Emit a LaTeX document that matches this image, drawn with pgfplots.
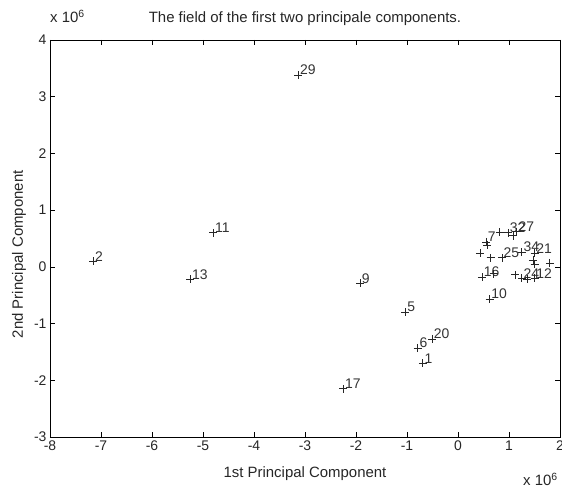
\documentclass[border=0pt]{standalone}
\usepackage{fontspec}
\setmainfont{Liberation Sans}
\usepackage{pgfplots}
\pgfplotsset{compat=1.18}
\begin{document}
\begin{tikzpicture}
\begin{axis}[
 width=510bp, height=397bp, scale only axis,
 xmin=-8, xmax=2, ymin=-3, ymax=4,
 xtick={-8,-7,...,2}, ytick={-3,-2,...,4},
 tick align=inside, major tick length=5bp,
 tick style={black, line width=0.6pt},
 axis line style={line width=0.8pt},
 /pgf/number format/assume math mode=true,
 ticklabel style={font=\fontsize{14}{16}\selectfont, text=black!85},
 xlabel={1st Principal Component},
 ylabel={2nd Principal Component},
 xlabel style={at={(axis description cs:0.5,-0.103)}, anchor=base, font=\fontsize{15}{17}\selectfont, text=black!85},
 ylabel style={at={(axis description cs:-0.053,0.46)}, anchor=base, font=\fontsize{15}{17}\selectfont, text=black!85},
 title={The field of the first two principale components.},
 title style={at={(axis description cs:0.5,1)}, anchor=base, yshift=12bp, font=\fontsize{15}{17}\selectfont, text=black!85},
 clip=false,
]
\addplot[only marks, mark=+, mark size=4bp, black!85, line width=0.7pt,
 nodes near coords, point meta=explicit symbolic,
 nodes near coords style={anchor=west, inner sep=0pt, xshift=1.5bp, yshift=5bp, font=\fontsize{14}{16}\selectfont, text=black!80}]
 table[meta=label] {
x y label
-3.13 3.38 29
-4.80 0.60 11
-7.15 0.10 2
-5.25 -0.22 13
-1.92 -0.29 9
-1.03 -0.80 5
-0.51 -1.27 20
-0.79 -1.43 6
-0.69 -1.70 1
-2.25 -2.15 17
0.55 0.44 7
0.98 0.60 32
1.15 0.62 27
0.86 0.16 25
1.25 0.26 34
1.50 0.24 21
0.47 -0.18 16
1.25 -0.20 24
1.50 -0.20 12
0.62 -0.57 10
};
\addplot[only marks, mark=+, mark size=4bp, black!85, line width=0.7pt]
 table {
x y
0.57 0.38
0.82 0.61
1.08 0.55
0.43 0.24
0.64 0.16
1.47 0.12
1.50 0.05
1.80 0.07
0.70 -0.12
1.12 -0.14
1.35 -0.22
};
\node[anchor=base west, inner sep=0pt, font=\fontsize{15}{17}\selectfont, text=black!85] at ([yshift=17bp]current axis.north west) {x 10\textsuperscript{6}};
\node[anchor=base east, inner sep=0pt, font=\fontsize{15}{17}\selectfont, text=black!85] at ([xshift=-2bp,yshift=-49bp]current axis.south east) {x 10\textsuperscript{6}};
\end{axis}
\pgfresetboundingbox
\path ([xshift=-50bp,yshift=-52bp]current axis.south west) rectangle ([xshift=2bp,yshift=40bp]current axis.north east);
\end{tikzpicture}
\end{document}
